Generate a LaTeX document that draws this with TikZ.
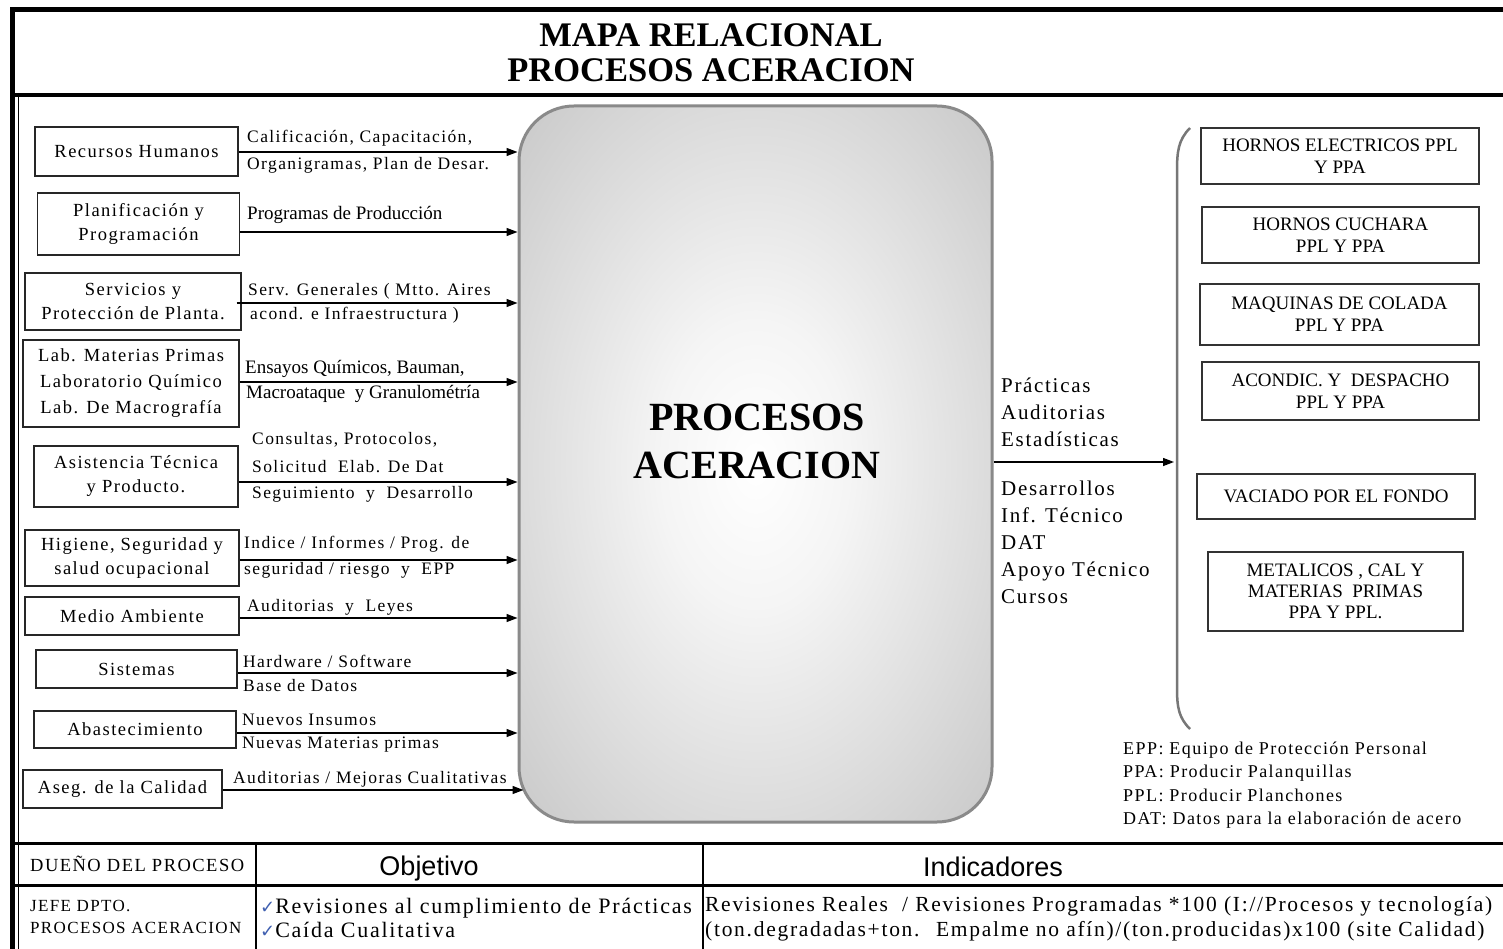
\documentclass[tikz,border=0pt]{standalone}
\usepackage{fontspec}
\setmainfont{Liberation Serif}
\newfontfamily\spaced{Liberation Serif}[LetterSpace=8]
\newfontfamily\plainsans{Liberation Sans}
\newfontfamily\symfont{DejaVu Sans}
\usetikzlibrary{arrows.meta,calc}
\definecolor{checkblue}{HTML}{3F5FB0}
\definecolor{rimgray}{HTML}{8A8A8A}
\definecolor{bracegray}{HTML}{777777}
\pgfdeclareradialshading{softglow}{\pgfpointorigin}{color(0bp)=(white); color(10bp)=(black!4); color(50bp)=(black!31); color(72bp)=(black!35)}
\tikzset{
  unit/.style={draw=black!85, line width=1.3pt, inner sep=2pt, align=center,
    font=\spaced\fontsize{18.5}{24}\selectfont},
  outbox/.style={draw=black!80, line width=1.4pt, inner sep=2pt, align=center,
    font=\fontsize{19}{22}\selectfont},
  core/.style={draw=rimgray, line width=3pt, rounded corners=55pt, shade, shading=softglow,
    minimum width=473pt, minimum height=716pt},
  flow/.style={line width=1.3pt, -{Triangle[length=11pt,width=8pt]}},
  flowlbl/.style={anchor=west, inner sep=0pt, font=\spaced\fontsize{17.5}{22}\selectfont},
  flowlblp/.style={anchor=west, inner sep=0pt, font=\fontsize{19}{22}\selectfont},
  outlbl/.style={anchor=west, inner sep=0pt, align=left, font=\spaced\fontsize{21}{27}\selectfont},
  cell/.style={inner sep=0pt, align=left},
  rule/.style={line width=#1}
}
\newcommand{\tick}{\textcolor{checkblue}{\symfont\fontsize{18}{18}\selectfont ✓}}
\begin{document}
\begin{tikzpicture}[x=1pt,y=-1pt]
\useasboundingbox (0,0) rectangle (1503,949);
\fill[white] (0,0) rectangle (1503,949);

% outer frame and title band
\draw[rule=5pt] (10,10) -- (1503,10);
\draw[rule=4.5pt] (10,95) -- (1503,95);
\draw[rule=4.5pt] (12.5,8) -- (12.5,949);
\draw[rule=1.2pt] (18.5,97) -- (18.5,949);
\node[font=\bfseries\fontsize{34.5}{35}\selectfont, align=center] (title) at (711,53)
  {MAPA RELACIONAL\\PROCESOS ACERACION};

% central process
\node[core] (core) at (755.5,464) {};
\node[font=\bfseries\fontsize{40}{48}\selectfont, align=center] (coretext) at (757,441)
  {PROCESOS\\ACERACION};

% supporting units
\node[unit, minimum width=203pt, minimum height=49pt] (rh)  at (136.5,151.5) {Recursos Humanos};
\node[unit, minimum width=202pt, minimum height=62pt] (pp)  at (138.5,224) {Planificación y\\Programación};
\node[unit, minimum width=216pt, minimum height=57pt] (sp)  at (133,301.5) {Servicios y\\Protección de Planta.};
\node[unit, minimum width=216pt, minimum height=87pt, font=\spaced\fontsize{18.5}{26}\selectfont] (lab) at (131,383.5)
  {Lab. Materias Primas\\Laboratorio Químico\\Lab. De Macrografía};
\node[unit, minimum width=204pt, minimum height=61pt] (at)  at (136,476.5) {Asistencia Técnica\\y Producto.};
\node[unit, minimum width=214pt, minimum height=56pt] (hs)  at (132,558) {Higiene, Seguridad y\\salud ocupacional};
\node[unit, minimum width=214pt, minimum height=38pt] (ma)  at (132,616) {Medio Ambiente};
\node[unit, minimum width=201pt, minimum height=38pt] (si)  at (136.5,669) {Sistemas};
\node[unit, minimum width=202pt, minimum height=37pt] (ab)  at (135,729.5) {Abastecimiento};
\node[unit, minimum width=199pt, minimum height=38pt] (ac)  at (122.5,789) {Aseg. de la Calidad};

% inputs into the process
\coordinate (o1)  at ($(rh.east)+(0,0.5)$);
\coordinate (o2)  at ($(pp.east)+(0,8)$);
\coordinate (o3)  at ($(sp.east)+(-5,1.5)$);
\coordinate (o4)  at ($(lab.east)+(0,-1.5)$);
\coordinate (o5)  at ($(at.east)+(0,5.5)$);
\coordinate (o6)  at ($(hs.east)+(0,2)$);
\coordinate (o7)  at ($(ma.east)+(0,2)$);
\coordinate (o8)  at ($(si.east)+(0,4)$);
\coordinate (o9)  at ($(ab.east)+(0,3.5)$);
\coordinate (o10) at ($(ac.east)+(0,1)$);
\foreach \s in {o1,o2,o3,o4,o5,o6,o7,o8,o9}
  \draw[flow] (\s) -- (\s -| core.west);
\draw[flow] (o10) -- ($(o10 -| core.west)+(6,0)$);

\node[flowlbl] (t1a) at (247,138) {Calificación, Capacitación,};
\node[flowlbl] (t1b) at (247,165) {Organigramas, Plan de Desar.};
\node[flowlblp] (t2) at (247,215) {Programas de Producción};
\node[flowlbl] (t3a) at (248,291) {Serv. Generales ( Mtto. Aires};
\node[flowlbl] (t3b) at (250,315) {acond. e Infraestructura )};
\node[flowlblp] (t4a) at (245,369) {Ensayos Químicos, Bauman,};
\node[flowlblp] (t4b) at (246,394) {Macroataque \ y Granulométría};
\node[flowlbl] (t5a) at (252,440) {Consultas, Protocolos,};
\node[flowlbl] (t5b) at (252,467) {Solicitud \ Elab. De Dat};
\node[flowlbl] (t5c) at (252,494) {Seguimiento \ y \ Desarrollo};
\node[flowlbl] (t6a) at (244,544) {Indice / Informes / Prog. de};
\node[flowlbl] (t6b) at (244,570) {seguridad / riesgo \ y \ EPP};
\node[flowlbl] (t7) at (247,607) {Auditorias \ y \ Leyes};
\node[flowlbl] (t8a) at (243,661) {Hardware / Software};
\node[flowlbl] (t8b) at (243,686) {Base de Datos};
\node[flowlbl] (t9a) at (242,720) {Nuevos Insumos};
\node[flowlbl] (t9b) at (242,745) {Nuevas Materias primas};
\node[flowlbl] (t10) at (233,779) {Auditorias / Mejoras Cualitativas};

% output towards the areas
\coordinate (brk) at (1174,462);
\draw[flow] (core.east |- brk) -- (brk);
\node[outlbl] (outa) at (1001,412) {Prácticas\\Auditorias\\Estadísticas};
\node[outlbl] (outb) at (1001,542.5) {Desarrollos\\Inf. Técnico\\DAT\\Apoyo Técnico\\Cursos};

\draw[bracegray, line width=2.5pt] (1190,128) .. controls (1178,140) and (1177,152) .. (1177,172)
  -- (1177,688) .. controls (1177,708) and (1179,718) .. (1190,729);

\node[outbox, minimum width=278pt, minimum height=56pt] (r1) at (1340,156) {HORNOS ELECTRICOS PPL\\Y PPA};
\node[outbox, minimum width=277pt, minimum height=56pt] (r2) at (1340.5,235) {HORNOS CUCHARA\\PPL Y PPA};
\node[outbox, minimum width=279pt, minimum height=61pt] (r3) at (1339.5,314.5) {MAQUINAS DE COLADA\\PPL Y PPA};
\node[outbox, minimum width=277pt, minimum height=58pt] (r4) at (1340.5,391) {ACONDIC. Y \ DESPACHO\\PPL Y PPA};
\node[outbox, minimum width=278pt, minimum height=45pt] (r5) at (1336,496.5) {VACIADO POR EL FONDO};
\node[outbox, minimum width=255pt, minimum height=79pt, font=\fontsize{19}{21}\selectfont] (r6) at (1335.5,591.5)
  {METALICOS , CAL Y\\MATERIAS \ PRIMAS\\PPA Y PPL.};

% abbreviations
\node[cell, anchor=west, font=\spaced\fontsize{18}{23.3}\selectfont] (legend) at (1123,785)
  {EPP: Equipo de Protección Personal\\PPA: Producir Palanquillas\\PPL: Producir Planchones\\DAT: Datos para la elaboración de acero};

% owner / objective / indicator table
\draw[rule=3pt] (12,843) -- (1503,843);
\draw[rule=2.5pt] (12,885.5) -- (1503,885.5);
\draw[rule=1.2pt] (256,843) -- (256,949);
\draw[rule=1.2pt] (703,843) -- (703,949);

\node[cell, anchor=west, font=\spaced\fontsize{18.5}{22}\selectfont] (own) at (30,864) {DUEÑO DEL PROCESO};
\node[cell, font=\plainsans\fontsize{27}{30}\selectfont] (obj) at (429,869) {Objetivo};
\node[cell, font=\plainsans\fontsize{27}{30}\selectfont] (ind) at (993,867) {Indicadores};
\node[cell, anchor=west, font=\spaced\fontsize{17}{22}\selectfont] (jefe) at (30,917) {JEFE DPTO.\\PROCESOS ACERACION};
\node[cell, anchor=west, font=\spaced\fontsize{22}{24}\selectfont] (objt) at (260,918)
  {\tick Revisiones al cumplimiento de Prácticas\\
   \tick Caída Cualitativa};
\node[cell, anchor=west, font=\spaced\fontsize{21.5}{25}\selectfont] (indt) at (705,919)
  {Revisiones Reales \ / Revisiones Programadas *100 (I://Procesos y tecnología)\\
   (ton.degradadas+ton. \ Empalme no afín)/(ton.producidas)x100 (site Calidad)};
\end{tikzpicture}
\end{document}
